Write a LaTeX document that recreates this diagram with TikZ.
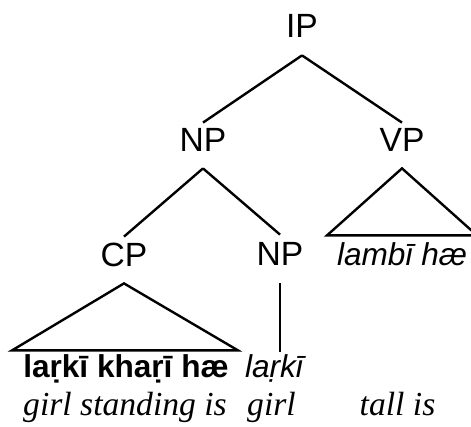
\documentclass[tikz,border=0pt]{standalone}
\usepackage{fontspec}
\setmainfont{Liberation Serif}
\newfontfamily\lsans{Liberation Sans}
\begin{document}
\begin{tikzpicture}[x=0.5pt,y=-0.5pt,
  cat/.style={font=\lsans\fontsize{16.8}{20}\selectfont, inner sep=0pt, text height=12pt, text depth=0pt, anchor=base},
  word/.style={font=\lsans\fontsize{15.8}{19}\selectfont, inner sep=0pt, anchor=base},
  gloss/.style={font=\itshape\fontsize{16.8}{20}\selectfont, inner sep=0pt, anchor=base},
  branch/.style={line width=1.2pt}]
\useasboundingbox (0,0) rectangle (471,427);
\node[cat] (IP) at (302,38) {IP};
\node[cat] (NP) at (203,152) {NP};
\node[cat] (VP) at (402,152) {VP};
\node[cat] (CP) at (124,267) {CP};
\node[cat] (NPb) at (280,266) {NP};
\node[word] (vpw) at (402,265) {\itshape lambī hæ};
\node[word] (cpw) at (126,377) {\bfseries laṛkī khaṛī hæ};
\node[word] (npw) at (274,377) {\itshape laṛkī};
\node[gloss] (g1) at (125,415) {girl standing is};
\node[gloss] (g2) at (271.5,415) {girl};
\node[gloss] (g3) at (397.5,415) {tall is};
\draw[branch] ([yshift=-8.5pt]IP.south) -- ([yshift=2.5pt]NP.north);
\draw[branch] ([yshift=-8.5pt]IP.south) -- ([yshift=2.5pt]VP.north);
\draw[branch] ([yshift=-8pt]NP.south) -- ([yshift=3pt]CP.north);
\draw[branch] ([yshift=-8pt]NP.south) -- ([yshift=3.5pt]NPb.north);
\draw[branch] ([yshift=-8.5pt]NPb.south) -- ++(0,69);
\draw[branch] ([yshift=-8pt]CP.south) -- ++(-112,67) -- ++(226,0) -- cycle;
\draw[branch] ([yshift=-8pt]VP.south) -- ++(-75,67) -- ++(150,0) -- cycle;
\end{tikzpicture}
\end{document}
